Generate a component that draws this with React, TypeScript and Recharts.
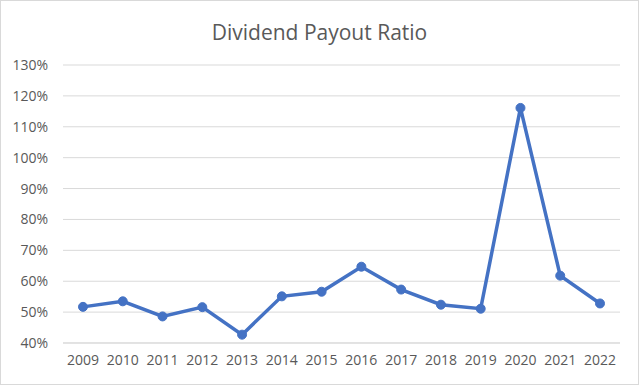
import { LineChart, Line, XAxis, YAxis, CartesianGrid } from "recharts";

const years = [
  "2009", "2010", "2011", "2012", "2013", "2014", "2015",
  "2016", "2017", "2018", "2019", "2020", "2021", "2022",
];
const payoutRatio = [
  51.7, 53.5, 48.6, 51.6, 42.7, 55.1, 56.6,
  64.7, 57.3, 52.4, 51.1, 116.1, 61.8, 52.8,
];
const yTicks = [40, 50, 60, 70, 80, 90, 100, 110, 120, 130];

const data = years.map((year, i) => ({ year, ratio: payoutRatio[i] }));

const font = "'Open Sans', sans-serif";

export default function App() {
  return (
    <div
      style={{
        position: "absolute",
        left: 0,
        top: 0,
        width: 637,
        height: 383,
        border: "1px solid #d9d9d9",
        background: "#fff",
        fontFamily: font,
      }}
    >
      <div
        style={{
          position: "absolute",
          top: 17,
          width: "100%",
          textAlign: "center",
          fontSize: 21,
          color: "#595959",
          lineHeight: "28px",
        }}
      >
        Dividend Payout Ratio
      </div>
      <LineChart
        width={639}
        height={384}
        data={data}
        margin={{ top: 65, right: 19, left: 0, bottom: 11 }}
        style={{ position: "absolute", left: -1, top: -1 }}
      >
        <CartesianGrid vertical={false} stroke="#d9d9d9" />
        <XAxis
          dataKey="year"
          height={30}
          padding={{ left: 20, right: 20 }}
          tickLine={false}
          tickSize={0}
          tickMargin={12}
          axisLine={{ stroke: "#d9d9d9" }}
          tick={{ fill: "#595959", fontSize: 14, fontFamily: font }}
          interval={0}
        />
        <YAxis
          width={63}
          domain={[40, 130]}
          ticks={yTicks}
          tickFormatter={(v) => `${v}%`}
          axisLine={false}
          tickLine={false}
          tickSize={0}
          tickMargin={15}
          tick={{ fill: "#595959", fontSize: 14, fontFamily: font }}
        />
        <Line
          type="linear"
          dataKey="ratio"
          stroke="#4472C4"
          strokeWidth={3.5}
          dot={{ r: 4.5, fill: "#4472C4", stroke: "#4472C4", strokeWidth: 1 }}
          isAnimationActive={false}
        />
      </LineChart>
    </div>
  );
}
